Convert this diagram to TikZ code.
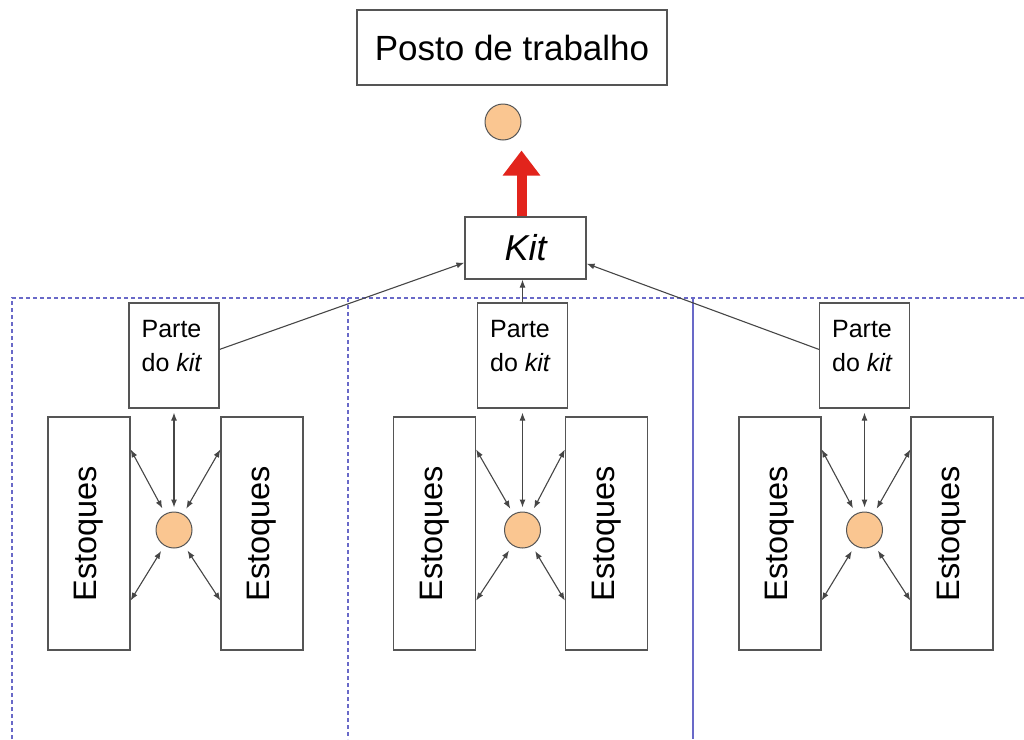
\documentclass[tikz,border=0pt]{standalone}
\usepackage{fontspec}
\setmainfont{Liberation Sans}
\usetikzlibrary{arrows.meta,calc}

\definecolor{boxgray}{RGB}{85,85,85}
\definecolor{linkgray}{RGB}{70,70,70}
\definecolor{itemfill}{RGB}{250,198,145}
\definecolor{panelblue}{RGB}{105,105,200}
\definecolor{arrowred}{RGB}{226,36,28}

\begin{document}
\begin{tikzpicture}[x=1pt,y=-1pt,
  box/.style={draw=boxgray, line width=1.2pt, fill=white, inner sep=0pt},
  item/.style={circle, draw=boxgray, fill=itemfill, line width=1pt,
               minimum size=36pt, inner sep=0pt},
  link/.style={draw=linkgray, line width=1.1pt, -{Latex[length=8pt,width=6pt]}},
  twoway/.style={draw=linkgray, line width=1.1pt,
                 {Latex[length=8pt,width=6pt]}-{Latex[length=8pt,width=6pt]}},
  panel/.style={draw=panelblue, line width=1.4pt, dash pattern=on 4pt off 3pt},
  panelsolid/.style={draw=panelblue, line width=1.5pt},
  parttext/.style={inner sep=0pt, font=\fontsize{25}{30}\selectfont},
  stocktext/.style={rotate=90, inner sep=0pt, font=\fontsize{32.5}{38}\selectfont},
]
\useasboundingbox (0,0) rectangle (1024,739);

% panel frames
\draw[panel] (12,739) -- (12,298) -- (1024,298);
\draw[panel] (348,298) -- (348,739);
\draw[panelsolid] (693,298) -- (693,739);

% workstation and kit
\node[box, minimum width=310pt, minimum height=75pt,
      font=\fontsize{35}{42}\selectfont] (post) at (512,47.5) {Posto de trabalho};
\node[item] (topitem) at (503,122) {};
\node[box, minimum width=121pt, minimum height=62pt,
      font=\fontsize{36}{42}\selectfont\itshape] (kit) at (525.5,248) {Kit};

\coordinate (kitup) at ($(kit.north)+(-4,0)$);
\coordinate (redtip) at (kitup |- topitem.south);
\draw[arrowred, line width=10pt, -{Triangle[length=25pt,width=36pt]},
      shorten >=10pt] (kitup) -- (redtip);

% one station: #1 name, #2 part x, #3 left stock x, #4 right stock x
\foreach \n/\px/\lx/\rx in {1/174/89/262, 2/522.5/434.5/606.5, 3/864.5/780/952} {
  \node[box, minimum width=90pt, minimum height=105pt] (p\n) at (\px,355.5) {};
  \node[parttext, anchor=base west] at ($(p\n.north west)+(13,35)$) {Parte};
  \node[parttext, anchor=base west] at ($(p\n.north west)+(13,69)$) {do \textit{kit}};
  \node[box, minimum width=82pt, minimum height=233pt] (l\n) at (\lx,533.5) {};
  \node[stocktext] at (l\n) {Estoques};
  \node[box, minimum width=82pt, minimum height=233pt] (r\n) at (\rx,533.5) {};
  \node[stocktext] at (r\n) {Estoques};
  \node[item] (c\n) at (\px,530) {};
  \draw[twoway, shorten <=4pt, shorten >=4pt] (c\n) -- (p\n);
  \draw[twoway, shorten >=6pt] ($(l\n.north east)+(0,33)$) -- (c\n);
  \draw[twoway, shorten >=6pt] ($(r\n.north west)+(0,33)$) -- (c\n);
  \draw[twoway, shorten >=6pt] ($(l\n.south east)+(0,-50)$) -- (c\n);
  \draw[twoway, shorten >=6pt] ($(r\n.south west)+(0,-50)$) -- (c\n);
}

% parts gathered into the kit
\draw[link] ($(p1.north east)+(0,47)$) -- ($(kit.south west)+(0,-17)$);
\draw[link] (p2.north) -- (p2.north |- kit.south);
\draw[link] ($(p3.north west)+(0,47)$) -- ($(kit.south east)+(0,-16)$);
\end{tikzpicture}
\end{document}
